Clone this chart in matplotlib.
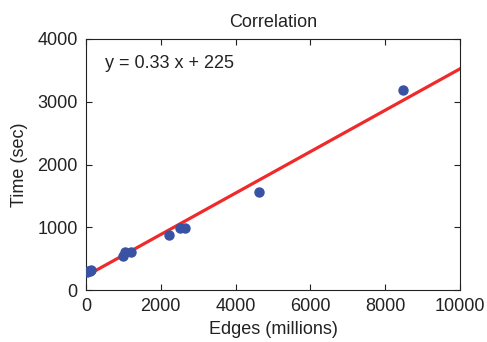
import numpy as np
from matplotlib import pyplot as plt

plt.rcParams['font.family'] = ['Liberation Sans', 'DejaVu Sans']

# measured points (edges in millions, time in seconds)
edges = [20, 60, 100, 130, 1000, 1050, 1200, 2220, 2510, 2640, 4630, 8480]
times = [290, 300, 310, 320, 540, 600, 600, 880, 985, 985, 1560, 3185]

slope = 0.33
intercept = 225

fig = plt.figure(figsize=(4.87, 3.42), dpi=100)
ax = fig.add_axes([0.1766, 0.152, 0.768, 0.734])

fit_x = np.array([0, 10000])
ax.plot(fit_x, slope * fit_x + intercept, color='#f02a2a', linewidth=2.3, zorder=2)
ax.plot(edges, times, 'o', color='#3a52a4', markersize=6.5, zorder=3)

ax.set_xlim(0, 10000)
ax.set_ylim(0, 4000)
ax.set_xticks([0, 2000, 4000, 6000, 8000, 10000])
ax.set_yticks([0, 1000, 2000, 3000, 4000])
ax.tick_params(direction='in', top=True, right=True, labelsize=13, length=4, width=0.8,
               colors='#222222', pad=6)
for s in ax.spines.values():
    s.set_linewidth(0.8)
    s.set_color('#222222')

ax.set_title("Correlation", fontsize=13, color='#222222', pad=8.5)
ax.set_xlabel("Edges (millions)", fontsize=13, color='#222222', labelpad=4)
ax.set_ylabel("Time (sec)", fontsize=13, color='#222222', labelpad=7)
ax.text(0.05, 0.904, "y = 0.33 x + 225", transform=ax.transAxes, fontsize=13,
        va='center', ha='left', color='#222222')

plt.savefig("out.png", dpi=100)
plt.close()
